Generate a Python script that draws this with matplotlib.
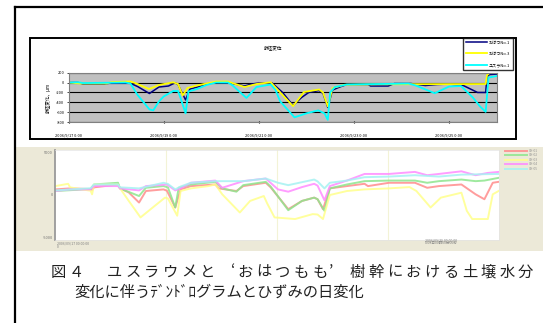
import matplotlib
matplotlib.use("Agg")
import matplotlib.pyplot as plt
from matplotlib.patches import Rectangle
from matplotlib.lines import Line2D

plt.rcParams['font.family'] = ['Noto Sans CJK JP', 'DejaVu Sans']

W, H = 543, 323

# ---- dendrometer (幹径変位), days since 2006/9/17 0:00, um ----
hatsu1_day = [0, 0.2, 0.3, 0.75, 0.85, 1.3, 1.45, 1.7, 1.9, 2.1, 2.24, 2.3, 2.46, 2.55,
              2.75, 2.9, 3.1, 3.4, 3.7, 3.85, 4.0, 4.28, 4.5, 4.72, 4.9, 5.05, 5.27, 5.35,
              5.45, 5.55, 5.7, 5.85, 6.3, 6.35, 6.72, 6.85, 7.2, 7.5, 7.75, 8.0, 8.3, 8.6,
              8.77, 8.8, 8.85, 9.0]
hatsu1_um = [0, 0, -30, -30, -15, -15, -80, -220, -90, -70, -5, -40, -350, -130,
             -80, -30, 0, -10, -70, -30, -10, -10, -200, -460, -300, -200, -160, -220,
             -500, -150, -90, -40, -40, -70, -70, -20, -20, -60, -40, -30, -60, -200,
             -200, 120, 160, 170]

hatsu3_day = [0, 0.25, 0.8, 0.9, 1.3, 1.4, 1.69, 1.9, 2.2, 2.3, 2.4, 2.5, 2.7, 2.9,
              3.1, 3.35, 3.7, 3.95, 4.25, 4.45, 4.72, 4.95, 5.27, 5.35, 5.45, 5.55, 5.8,
              6.5, 8.77, 8.8, 8.85, 9.0]
hatsu3_um = [0, -20, -20, 10, 20, -10, -130, -50, 5, -30, -260, -110, -60, -20,
             20, 20, -90, -30, 5, -200, -475, -190, -140, -200, -480, -110, -45,
             -35, -30, 150, 190, 195]

yusura1_day = [0, 0.2, 0.3, 1.2, 1.3, 1.45, 1.7, 1.78, 1.9, 2.0, 2.2, 2.3, 2.35, 2.46,
               2.52, 2.7, 2.9, 3.1, 3.35, 3.45, 3.74, 3.95, 4.25, 4.35, 4.45, 4.75, 5.0,
               5.25, 5.38, 5.45, 5.5, 5.6, 5.85, 7.15, 7.3, 7.7, 8.0, 8.25, 8.5, 8.65,
               8.77, 8.83, 9.0]
yusura1_um = [0, 5, -10, 0, -20, -250, -540, -560, -380, -280, -170, -170, -300, -620,
              -180, -130, -50, 0, 0, -60, -310, -90, -40, -150, -380, -700, -620,
              -560, -620, -750, -200, -90, -40, -20, -60, -215, -80, -70, -300, -480,
              -590, 100, 130]

top_ticks = [0, 2, 4, 6, 8]
top_ticklabels = ['2006/9/17 0:00', '2006/9/19 0:00', '2006/9/21 0:00',
                  '2006/9/23 0:00', '2006/9/25 0:00']
top_yticks = [200, 0, -200, -400, -600, -800]

# ---- strain gauges, days since 2006/09/17 00:00:00, micro strain ----
ch1_day = [0, 0.3, 0.72, 0.75, 0.79, 1.28, 1.32, 1.5, 1.71, 1.85, 2.21, 2.28, 2.45, 2.56,
           2.77, 3.27, 3.34, 3.7, 3.84, 4.3, 4.4, 4.76, 5.04, 5.29, 5.36, 5.47, 5.61,
           5.96, 6.32, 6.39, 6.82, 7.35, 7.6, 7.84, 8.3, 8.59, 8.77, 8.94, 9.06]
ch1_val = [660, 780, 700, 600, 900, 1240, 780, 300, -890, 470, 660, 500, -1470, 660,
           1050, 1240, 780, 470, 1050, 1440, 900, -1670, -700, -310, -500, -1670, 780,
           1050, 1320, 1050, 1440, 1440, 850, 1050, 1240, 80, -500, 1440, 1550]

ch2_day = [0, 0.72, 0.79, 1.28, 1.32, 1.71, 1.85, 2.21, 2.3, 2.45, 2.52, 2.77, 3.27,
           3.41, 3.7, 3.84, 4.3, 4.4, 4.76, 5.04, 5.29, 5.36, 5.5, 5.61, 5.96, 6.32,
           6.82, 7.35, 7.6, 7.84, 8.3, 8.59, 8.77, 9.06]
ch2_val = [470, 700, 1240, 1440, 780, -120, 850, 1050, 900, -1470, 850, 1240, 1550,
           780, 390, 1160, 1550, 1000, -1790, -700, -310, -500, -1860, 780, 1240, 1630,
           1700, 1700, 1440, 1630, 1820, 1630, 1700, 2020]

ch3_day = [0, 0.26, 0.3, 0.72, 0.75, 0.79, 1.28, 1.32, 1.5, 1.74, 1.99, 2.24, 2.3, 2.49,
           2.56, 2.77, 3.13, 3.27, 3.41, 3.77, 3.98, 4.26, 4.33, 4.48, 4.9, 5.26, 5.36,
           5.47, 5.61, 5.96, 6.32, 6.82, 7.24, 7.38, 7.67, 7.88, 8.3, 8.41, 8.52, 8.84,
           8.94, 9.06]
ch3_val = [1050, 1320, 900, 500, 80, 1240, 1240, 800, -700, -2640, -1470, -310, -400, -2440,
           470, 780, 1050, 1240, 80, -2060, -700, -120, -1000, -2640, -2830, -2250, -2300,
           -2830, 0, 470, 660, 780, 930, 470, -1470, -310, 270, -1860, -2830, -2830,
           80, 470]

ch4_day = [0, 0.29, 0.72, 0.79, 1.28, 1.32, 1.71, 1.85, 2.28, 2.45, 2.56, 2.77, 3.27,
           3.41, 3.84, 4.3, 4.55, 4.76, 5.04, 5.29, 5.36, 5.5, 5.61, 5.96, 6.32, 6.82,
           7.35, 7.6, 7.84, 8.3, 8.59, 8.84, 9.06]
ch4_val = [470, 660, 660, 1050, 1050, 780, 540, 1050, 1240, 540, 780, 1440, 1700,
           850, 1630, 1940, 660, 390, 930, 1320, 1100, -620, 1050, 1700, 2480, 2480,
           2720, 2330, 2480, 2790, 2330, 2600, 2720]

ch5_day = [0, 0.72, 0.79, 1.28, 1.32, 1.71, 2.21, 2.3, 2.45, 2.56, 2.77, 3.27, 3.84,
           4.3, 4.55, 4.76, 5.29, 5.36, 5.5, 5.61, 5.96, 6.32, 6.82, 7.35, 7.84, 8.3, 9.06]
ch5_val = [540, 800, 1240, 1240, 900, 780, 1440, 1300, 660, 1000, 1440, 1630, 1630,
           1940, 1440, 1160, 1820, 1600, 780, 1440, 1700, 2100, 2170, 2330, 2170, 2400, 2480]

strain_names = ['CH-01', 'CH-02', 'CH-03', 'CH-04', 'CH-05']
strain_colors = ['#ff8c8c', '#8ee68e', '#ffff8c', '#ff8cff', '#a6f2f2']
bottom_yticks = [5000, 0, -5000]

caption1 = '図４　ユスラウメと‘おはつもも’樹幹における土壌水分'
caption2 = '変化に伴うﾃﾞﾝﾄﾞﾛグラムとひずみの日変化'


def box(l, t, r, b):
    return [l / W, 1 - b / H, (r - l) / W, (b - t) / H]


fig = plt.figure(figsize=(W / 100, H / 100), dpi=100)
fig.patch.set_facecolor('white')

# page frame
fig.add_artist(Line2D([14.5 / W, 14.5 / W], [1 - 6.5 / H, 0], color='black', lw=1.6,
                      transform=fig.transFigure))
fig.add_artist(Line2D([14.5 / W, 1], [1 - 6.5 / H, 1 - 6.5 / H], color='black', lw=1.6,
                      transform=fig.transFigure))

# top chart box
l, b_, w, h = box(30, 37.5, 516, 139)
fig.add_artist(Rectangle((l, b_), w, h, transform=fig.transFigure, facecolor='white',
                         edgecolor='black', lw=1.4, zorder=0))
fig.text(273 / W, 1 - 48 / H, '幹径変位', fontsize=3.3, ha='center', va='center')

ax = fig.add_axes(box(68.6, 72.6, 496.6, 122.3))
ax.set_facecolor('#c0c0c0')
ax.plot(hatsu1_day, hatsu1_um, color='#000080', lw=1.1, label='おはつNo.1')
ax.plot(hatsu3_day, hatsu3_um, color='#ffff00', lw=1.3, label='おはつNo.3')
ax.plot(yusura1_day, yusura1_um, color='#00ffff', lw=1.3, label='ユスラNo.1')
ax.set_xlim(0, 9)
ax.set_ylim(-800, 200)
ax.set_yticks(top_yticks)
ax.set_yticklabels([str(v) for v in top_yticks])
ax.set_xticks(top_ticks)
ax.set_xticklabels(top_ticklabels)
ax.yaxis.grid(True, color='black', lw=0.8)
ax.set_axisbelow(True)
ax.tick_params(axis='y', labelsize=2.8, length=1.5, width=0.5, pad=1.5)
ax.tick_params(axis='x', labelsize=2.8, length=2, width=0.8, direction='inout', pad=7)
for s in ax.spines.values():
    s.set_color('#808080')
    s.set_linewidth(0.8)
ax.set_ylabel('幹径変化，μm', fontsize=3.3, labelpad=4)

leg = ax.legend(loc='upper left', bbox_to_anchor=(463 / W, 1 - 37.5 / H),
                bbox_transform=fig.transFigure, fontsize=3, frameon=True,
                fancybox=False, edgecolor='black', handlelength=4.9,
                handletextpad=0.4, labelspacing=1.7, borderpad=0.8, borderaxespad=0)
leg.get_frame().set_linewidth(1.0)
leg.set_zorder(10)

# bottom strain chart
l, b_, w, h = box(15.5, 146.7, 543, 251)
fig.add_artist(Rectangle((l, b_), w, h, transform=fig.transFigure, facecolor='#ece9d8',
                         edgecolor='none', zorder=0))

ax2 = fig.add_axes(box(55.4, 150, 498.6, 240))
ax2.set_facecolor('white')
series = [(ch1_day, ch1_val), (ch2_day, ch2_val), (ch3_day, ch3_val),
          (ch4_day, ch4_val), (ch5_day, ch5_val)]
for (d, v), name, c in zip(series, strain_names, strain_colors):
    ax2.plot(d, v, color=c, lw=1.4, alpha=0.85, label=name)
ax2.set_xlim(0, 9.06)
ax2.set_ylim(-5300, 5300)
ax2.set_yticks(bottom_yticks)
ax2.set_yticklabels([str(v) for v in bottom_yticks])
ax2.set_xticks([9.06 * 0.25, 9.06 * 0.5, 9.06 * 0.75])
ax2.set_xticklabels([])
ax2.xaxis.grid(True, color='#f3f3d6', lw=0.8)
ax2.tick_params(axis='y', labelsize=2.8, labelcolor='#707070', length=0, pad=2)
ax2.tick_params(axis='x', length=0)
for s in ax2.spines.values():
    s.set_color('#e4e4e4')
    s.set_linewidth(0.5)
ax2.spines['left'].set_color('#9a9a9a')
ax2.spines['left'].set_linewidth(1.3)

leg2 = ax2.legend(loc='upper left', bbox_to_anchor=(505 / W, 1 - 149 / H),
                  bbox_transform=fig.transFigure, fontsize=2.3, frameon=False,
                  handlelength=7, handletextpad=0.6, labelspacing=0.15, borderpad=0,
                  borderaxespad=0)
for t in leg2.get_texts():
    t.set_color('#909090')

fig.text(57 / W, 1 - 243.3 / H, '2006/09/17 00:00:00', fontsize=2.5, color='#808080',
         ha='left', va='center')
fig.text(57 / W, 1 - 246.8 / H, '0', fontsize=2.5, color='#808080', ha='left', va='center')
fig.text(425 / W, 1 - 240 / H, '2006/09/25 00:00:00', fontsize=2.5, color='#808080',
         ha='left', va='center')
fig.text(425 / W, 1 - 243 / H, '0008日00時00分00秒', fontsize=2.5, color='#808080',
         ha='left', va='center')

# caption: first line justified across the column, second line left aligned
cap_size = 11
slot = (535 - 48.5) / len(caption1)
for i, ch in enumerate(caption1):
    x0 = 48.5 + i * slot
    if ch == '‘':
        x, ha = x0 + slot, 'right'
    elif ch == '’':
        x, ha = x0, 'left'
    else:
        x, ha = x0 + slot / 2, 'center'
    fig.text(x / W, 1 - 272 / H, ch, fontsize=cap_size, ha=ha, va='center',
             color='#222222')
fig.text(74.5 / W, 1 - 292.5 / H, caption2, fontsize=cap_size, ha='left', va='center',
         color='#222222')

fig.savefig('out.png', dpi=100)
